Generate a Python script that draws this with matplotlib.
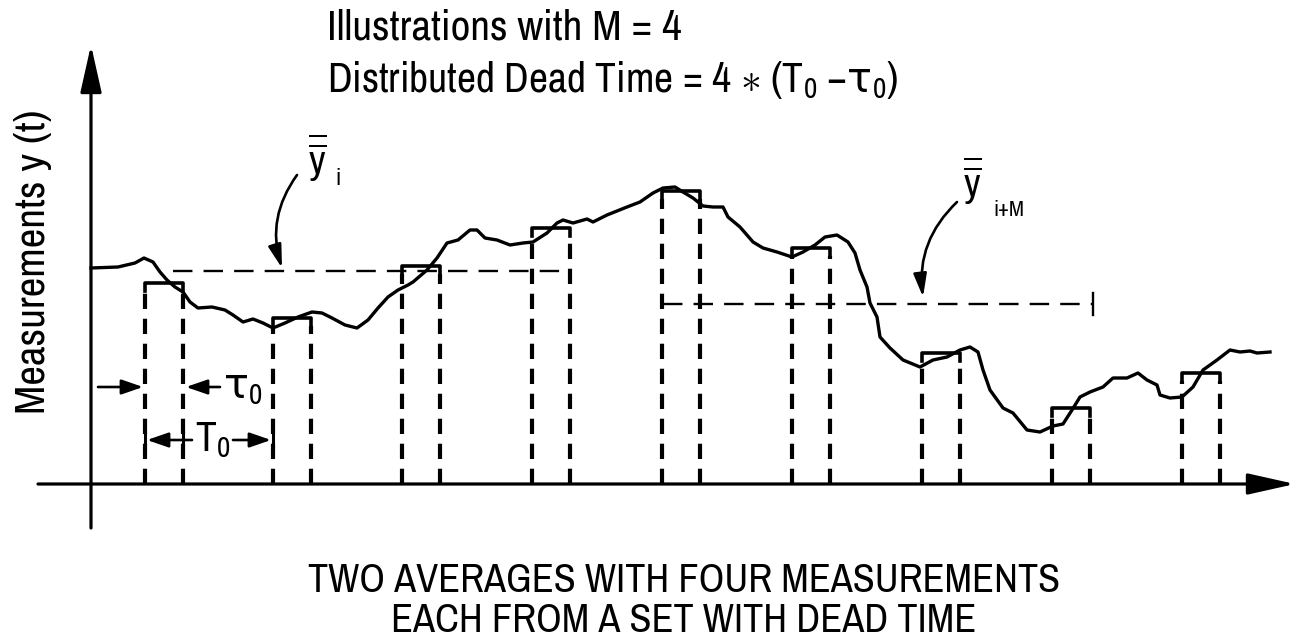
import matplotlib
matplotlib.use("Agg")
import matplotlib.pyplot as plt
from matplotlib import font_manager


def pick_font(names):
    for n in names:
        try:
            font_manager.findfont(n, fallback_to_default=False)
            return n
        except ValueError:
            pass
    return "DejaVu Sans"


FONT = pick_font(["Archivo Narrow", "Roboto Condensed", "Liberation Sans Narrow",
                  "Liberation Sans"])
plt.rcParams["font.family"] = [FONT, "DejaVu Sans"]
plt.rcParams["mathtext.fontset"] = "custom"
plt.rcParams["mathtext.rm"] = FONT
plt.rcParams["mathtext.it"] = FONT
plt.rcParams["mathtext.sf"] = "DejaVu Sans"   # upright tau
plt.rcParams["lines.scale_dashes"] = False

# measured signal y(t), origin at the axis crossing (one unit ~ one pixel)
t = [0, 27, 44, 53, 62, 69, 76, 84, 92, 99, 107, 121, 134, 142, 152, 162, 172, 182,
     194, 207, 221, 231, 241, 254, 266, 277, 287, 297, 307, 317, 322, 336, 346, 356,
     367, 379, 386, 394, 406, 419, 432, 442, 456, 466, 472, 482, 496, 502, 516, 536,
     549, 562, 572, 584, 592, 602, 612, 622, 632, 637, 649, 662, 672, 686, 701, 712,
     724, 734, 746, 757, 764, 769, 776, 779, 786, 789, 799, 812, 829, 842, 856, 869,
     879, 887, 892, 899, 912, 922, 936, 949, 962, 972, 981, 989, 999, 1012, 1022,
     1036, 1047, 1056, 1066, 1069, 1079, 1091, 1102, 1112, 1126, 1139, 1149, 1159,
     1166, 1179]
y = [216, 217, 221, 226, 222, 212, 204, 197, 192, 182, 176, 177, 174, 169, 162, 165,
     161, 156, 161, 167, 172, 171, 166, 159, 156, 164, 176, 187, 194, 199, 202, 214,
     226, 241, 244, 254, 254, 246, 244, 239, 241, 242, 251, 261, 264, 261, 265, 262,
     269, 277, 282, 291, 296, 297, 292, 286, 278, 277, 277, 267, 257, 242, 236, 232,
     227, 232, 239, 247, 249, 242, 231, 214, 197, 181, 167, 147, 136, 124, 117, 124,
     127, 134, 137, 132, 114, 94, 76, 71, 54, 52, 58, 60, 74, 87, 92, 97, 106, 106,
     111, 104, 99, 89, 86, 87, 97, 114, 124, 134, 132, 133, 131, 132]

# measurement windows (start, held value) and the two averages
win_start = [54, 182, 311, 441, 571, 701, 831, 961, 1091]
win_width = 38
win_top = [201, 166, 218, 256, 293, 236, 131, 76, 111]
mean_level = [213, 180]
mean_from = [82, 572]
mean_to = [479, 1002]

fig = plt.figure(figsize=(13.13, 6.42), dpi=100)
ax = fig.add_axes([0, 0, 1, 1])
ax.set_xlim(-91, 1222)
ax.set_ylim(-158, 484)
ax.axis("off")

# axes with arrow heads
axis_arrow = dict(arrowstyle="-|>,head_length=2.9,head_width=0.65", mutation_scale=10,
                  lw=2.3, color="black", shrinkA=0, shrinkB=0)
ax.annotate("", xy=(0, 439), xytext=(0, -44), arrowprops=axis_arrow)
ax.annotate("", xy=(1204, 0), xytext=(-53, 0), arrowprops=axis_arrow)

# signal
ax.plot(t, y, color="black", lw=2.4, solid_joinstyle="round", zorder=3)

# windows
for s, top in zip(win_start, win_top):
    e = s + win_width
    for xx in (s, e):
        ax.plot([xx, xx], [0, top - 8], color="black", lw=3.0, dashes=(11, 7))
    ax.plot([s, s, e, e], [top - 8, top, top, top - 8], color="black", lw=2.6,
            solid_joinstyle="round")

# averages
for lvl, a, b in zip(mean_level, mean_from, mean_to):
    ax.plot([a, b], [lvl, lvl], color="black", lw=1.7, dashes=(14, 8))
ax.plot([mean_to[1], mean_to[1]], [mean_level[1] - 11, mean_level[1] + 11],
        color="black", lw=1.7)

# labels of the averages with curved arrows
curve_arrow = dict(arrowstyle="-|>,head_length=1.4,head_width=0.4", mutation_scale=10,
                   lw=1.9, color="black", shrinkA=0, shrinkB=0,
                   connectionstyle="arc3,rad=0.25")
ax.annotate("", xy=(191, 216), xytext=(206, 309), arrowprops=curve_arrow)
ax.annotate("", xy=(832, 187), xytext=(866, 282), arrowprops=curve_arrow)
ax.text(217, 309, r"$\overline{\overline{\mathrm{y}}}$", fontsize=29, va="baseline")
ax.text(244, 299, "i", fontsize=17, va="baseline")
ax.text(872, 286, r"$\overline{\overline{\mathrm{y}}}$", fontsize=29, va="baseline")
ax.text(902, 268, "i+M", fontsize=16, fontweight="bold", va="baseline")

# tau0 and T0 markers
small_arrow = dict(arrowstyle="-|>,head_length=1.3,head_width=0.45", mutation_scale=10,
                   lw=1.9, color="black", shrinkA=0, shrinkB=0)
ax.annotate("", xy=(52, 97), xytext=(7, 97), arrowprops=small_arrow)
ax.annotate("", xy=(95, 97), xytext=(129, 97), arrowprops=small_arrow)
ax.text(132, 97, r"$\mathsf{\tau}_0$", fontsize=30, va="center")
ax.annotate("", xy=(56, 44), xytext=(101, 44), arrowprops=small_arrow)
ax.annotate("", xy=(180, 44), xytext=(142, 44), arrowprops=small_arrow)
for xx in (win_start[0], win_start[0] + win_width, win_start[1]):
    ax.plot([xx, xx], [36, 52], color="black", lw=2.2)
ax.text(104, 44, r"T$_0$", fontsize=30, va="center")

# texts
ax.text(236, 444, "Illustrations with M = 4", fontsize=31, va="baseline")
ax.text(236, 392, r"Distributed Dead Time = 4 $\ast$ (T$_0$ $-\mathsf{\tau}_0$)",
        fontsize=30, va="baseline")
ax.text(-58, 222, "Measurements y (t)", fontsize=31, rotation=90,
        ha="center", va="center")
ax.text(593, -108, "TWO AVERAGES WITH FOUR MEASUREMENTS", fontsize=29,
        ha="center", va="baseline")
ax.text(593, -148, "EACH FROM A SET WITH DEAD TIME", fontsize=29,
        ha="center", va="baseline")

fig.savefig("out.png", dpi=100, facecolor="white")
